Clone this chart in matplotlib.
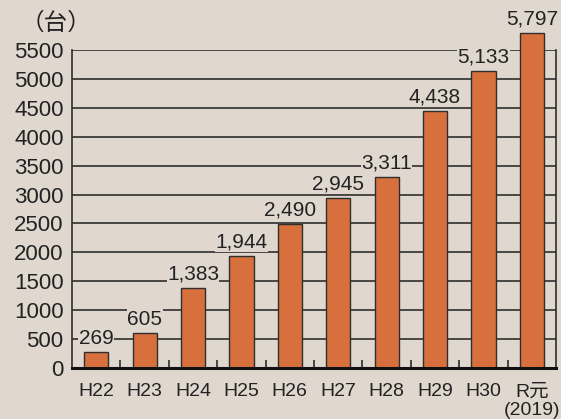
import matplotlib
matplotlib.use("Agg")
import matplotlib.pyplot as plt
from matplotlib.ticker import FixedLocator, NullFormatter

categories = ["H22", "H23", "H24", "H25", "H26", "H27", "H28", "H29", "H30", "R元\n(2019)"]
values = [269, 605, 1383, 1944, 2490, 2945, 3311, 4438, 5133, 5797]
y_ticks = [0, 500, 1000, 1500, 2000, 2500, 3000, 3500, 4000, 4500, 5000, 5500]
unit_label = "（台）"

BG = "#E0D8CF"
BAR = "#D8703E"
LINE = "#2E2E2E"
FONT = ["Liberation Sans", "Noto Sans CJK JP", "DejaVu Sans"]
plt.rcParams["font.family"] = FONT

fig = plt.figure(figsize=(5.61, 4.19), dpi=100, facecolor=BG)
ax = fig.add_axes([72 / 561, 51 / 419, 484 / 561, 318 / 419])
ax.set_facecolor(BG)

x = list(range(len(categories)))
ax.bar(x, values, width=0.5, color=BAR, edgecolor=LINE, linewidth=1.0,
       zorder=2, clip_on=False)

ax.set_xlim(-0.5, len(categories) - 0.5)
ax.set_ylim(0, 5500)
ax.set_yticks(y_ticks)
ax.set_yticklabels([str(v) for v in y_ticks], fontsize=16, color="#222222")
ax.tick_params(axis="y", length=0, pad=6)

ax.set_xticks(x)
ax.set_xticklabels(categories, fontsize=14, color="#222222", linespacing=1.15)
ax.tick_params(axis="x", which="major", length=0, pad=11)
ax.xaxis.set_minor_locator(FixedLocator([i + 0.5 for i in range(len(categories) - 1)]))
ax.xaxis.set_minor_formatter(NullFormatter())
ax.tick_params(axis="x", which="minor", direction="in", length=6, width=1.2, color=LINE)

ax.set_axisbelow(True)
ax.yaxis.grid(True, color=LINE, linewidth=1.2)
ax.xaxis.grid(False)

for s in ["left", "right"]:
    ax.spines[s].set_color(LINE)
    ax.spines[s].set_linewidth(1.2)
ax.spines["bottom"].set_color("#111111")
ax.spines["bottom"].set_linewidth(2.2)
ax.spines["top"].set_visible(False)

for xi, v in zip(x, values):
    ax.annotate(f"{v:,}", (xi, v), xytext=(0, 3.2), textcoords="offset points",
                ha="center", va="bottom", fontsize=15, color="#222222", zorder=3,
                annotation_clip=False,
                bbox=dict(boxstyle="square,pad=0.02", facecolor=BG, edgecolor="none"))

fig.text(56 / 561, 1 - 23 / 419, unit_label, ha="center", va="center",
         fontsize=17, color="#222222")

fig.savefig("out.png", dpi=100, facecolor=BG)
